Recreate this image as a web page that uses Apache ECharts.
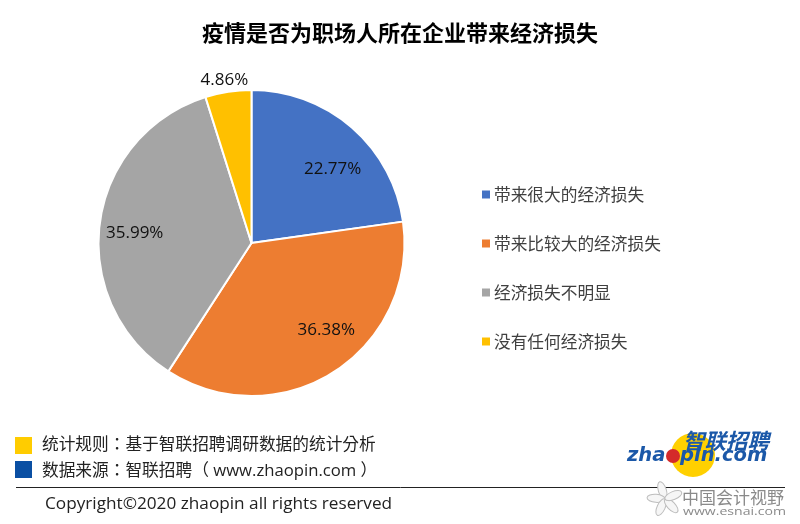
<!DOCTYPE html>
<html>
<head>
<meta charset="utf-8">
<style>html,body{margin:0;padding:0;background:#fff}#chart{width:800px;height:524px}</style>
<script src="https://cdn.jsdelivr.net/npm/echarts@6/dist/echarts.min.js"></script>
</head>
<body>
<div id="chart"></div>
<script>
var titleText = '疫情是否为职场人所在企业带来经济损失';
var categories = ['带来很大的经济损失', '带来比较大的经济损失', '经济损失不明显', '没有任何经济损失'];
var values = [22.77, 36.38, 35.99, 4.86];
var colors = ['#4472c4', '#ed7d31', '#a5a5a5', '#ffc000'];
var footRule = '统计规则：基于智联招聘调研数据的统计分析';
var footSource = '数据来源：智联招聘（ www.zhaopin.com ）';
var footCopy = 'Copyright©2020 zhaopin all rights reserved';

// label nudges from the default "inside" spot, same order as values
var labelNudge = [[29, -14], [32, 20], [-38, 1], [-15, -84]];

var cjk = '"Noto Sans CJK SC", sans-serif';
var cjkFoot = '"Open Sans", "Noto Sans CJK TC", sans-serif';
var latin = '"Open Sans", "Noto Sans CJK SC", sans-serif';
var logoBlue = '#1b58a8';

var chart = echarts.init(document.getElementById('chart'));

function footText(x, y, t, size, font) {
    return {type: 'text', x: x, y: y, style: {text: t, fill: '#222', font: size + 'px ' + font, textVerticalAlign: 'middle'}};
}

// watermark flower
function petal(angle) {
    return {
        type: 'ellipse', x: 665, y: 499, rotation: angle,
        shape: {cx: 0, cy: -9, rx: 4, ry: 9},
        style: {fill: '#f6f6f6', stroke: '#bdbdbd', lineWidth: 1}
    };
}

chart.setOption({
    animation: false,
    backgroundColor: '#fff',
    title: {
        text: titleText,
        left: 'center',
        top: 17,
        textStyle: {fontFamily: cjk, fontSize: 22, fontWeight: 'bold', color: '#000'}
    },
    legend: {
        orient: 'vertical',
        left: 475,
        top: 178,
        itemWidth: 10,
        itemHeight: 10,
        itemGap: 26,
        icon: 'rect',
        textStyle: {fontFamily: cjk, fontSize: 16.7, color: '#404040', padding: [0, 0, 0, -2], lineHeight: 23},
        data: categories
    },
    series: [{
        type: 'pie',
        center: [251.5, 243],
        radius: [0, 153],
        startAngle: 90,
        clockwise: true,
        itemStyle: {borderColor: '#fff', borderWidth: 2},
        label: {
            position: 'inside',
            formatter: function (p) { return p.value.toFixed(2) + '%'; },
            fontFamily: latin,
            fontSize: 17,
            color: '#111'
        },
        labelLine: {show: false},
        labelLayout: function (p) {
            return {dx: labelNudge[p.dataIndex][0], dy: labelNudge[p.dataIndex][1]};
        },
        data: categories.map(function (c, i) {
            return {name: c, value: values[i], itemStyle: {color: colors[i]}};
        })
    }],
    graphic: [
        {type: 'rect', shape: {x: 15, y: 437, width: 17, height: 17}, style: {fill: '#ffcc00'}},
        {type: 'rect', shape: {x: 15, y: 461, width: 17, height: 17}, style: {fill: '#0a4fa3'}},
        footText(42, 445, footRule, 16.7, cjkFoot),
        footText(42, 471, footSource, 16.7, cjkFoot),
        {type: 'line', shape: {x1: 16, y1: 487.5, x2: 785, y2: 487.5}, style: {stroke: '#222', lineWidth: 1}},
        footText(45, 504, footCopy, 17.2, latin),

        // zhaopin logo
        {type: 'circle', shape: {cx: 693, cy: 455, r: 22}, style: {fill: '#ffd000'}},
        {type: 'text', x: 683, y: 441, style: {text: '智联招聘', fill: logoBlue, font: 'italic bold 21.5px ' + cjk, textVerticalAlign: 'middle'}},
        {type: 'text', x: 627, y: 456, style: {text: 'zha', fill: logoBlue, font: 'italic bold 19.5px "DejaVu Sans", sans-serif', textVerticalAlign: 'middle'}},
        {type: 'text', x: 680, y: 456, style: {text: 'pin.com', fill: logoBlue, font: 'italic bold 19.5px "DejaVu Sans", sans-serif', textVerticalAlign: 'middle'}},
        {type: 'circle', shape: {cx: 673, cy: 456, r: 7}, style: {fill: '#d42a2a'}},

        // watermark
        petal(0.3), petal(1.5), petal(2.7), petal(3.9), petal(5.1),
        {type: 'text', x: 682, y: 498, style: {text: '中国会计视野', fill: '#8a8a8a', font: '17px ' + cjk, textVerticalAlign: 'middle'}},
        {type: 'text', x: 683, y: 512, scaleX: 1.28, style: {text: 'www.esnai.com', fill: '#8a8a8a', font: '11px ' + latin, textVerticalAlign: 'middle'}}
    ]
});

window.addEventListener('resize', function () {
    chart.resize();
});
</script>
</body>
</html>
